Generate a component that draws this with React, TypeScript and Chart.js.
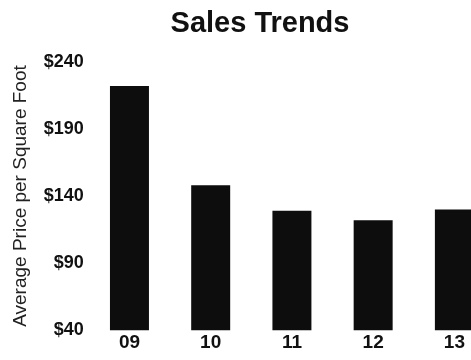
import React, { useEffect, useRef } from "react";
import { Chart, registerables } from "chart.js";

Chart.register(...registerables);

const categories = ["09", "10", "11", "12", "13"];
const prices = [222, 148, 129, 122, 130];
const yTickValues = [40, 90, 140, 190, 240];
const titleText = "Sales Trends";
const yAxisTitle = "Average Price per Square Foot";

const FONT = "'Liberation Sans', Arial, sans-serif";

export default function App() {
  const ref = useRef<HTMLCanvasElement | null>(null);

  useEffect(() => {
    if (!ref.current) return;
    const chart = new Chart(ref.current, {
      type: "bar",
      data: {
        labels: categories,
        datasets: [
          {
            data: prices,
            backgroundColor: "#0d0d0d",
            borderWidth: 0,
            barPercentage: 0.6,
            categoryPercentage: 0.8,
            yAxisID: "y",
          },
        ],
      },
      options: {
        responsive: false,
        animation: false,
        layout: { padding: { left: 0, right: 0, top: 0, bottom: 5 } },
        plugins: {
          legend: { display: false },
          tooltip: { enabled: false },
          title: {
            display: true,
            text: titleText,
            color: "#111",
            font: { family: FONT, size: 29, weight: "bold" },
            padding: { top: 7, bottom: 20 },
          },
        },
        scales: {
          x: {
            offset: true,
            grid: { display: false, drawTicks: false },
            border: { display: false },
            ticks: {
              color: "#111",
              padding: 1,
              font: { family: FONT, size: 19, weight: "bold" },
            },
          },
          y: {
            position: "left",
            min: 40,
            max: 240,
            grid: { display: false, drawTicks: false },
            border: { display: false },
            afterBuildTicks: (axis: any) => {
              axis.ticks = yTickValues.map((v) => ({ value: v }));
            },
            ticks: {
              color: "#111",
              padding: 5,
              font: { family: FONT, size: 18, weight: "bold" },
              callback: (v: any) => "$" + v,
            },
            title: {
              display: true,
              text: yAxisTitle,
              color: "#222",
              padding: { top: 9, bottom: 7 },
              font: { family: FONT, size: 19 },
            },
          },
          yR: {
            position: "right",
            min: 40,
            max: 240,
            grid: { display: false, drawTicks: false },
            border: { display: false },
            ticks: { display: false },
            afterFit: (axis: any) => {
              axis.width = 25;
            },
          },
        },
      },
    });
    return () => chart.destroy();
  }, []);

  return (
    <div
      style={{
        position: "fixed",
        left: 0,
        top: 0,
        width: 471,
        height: 360,
        overflow: "hidden",
        background: "#fff",
      }}
    >
      <canvas ref={ref} width={520} height={360} style={{ display: "block" }} />
    </div>
  );
}
